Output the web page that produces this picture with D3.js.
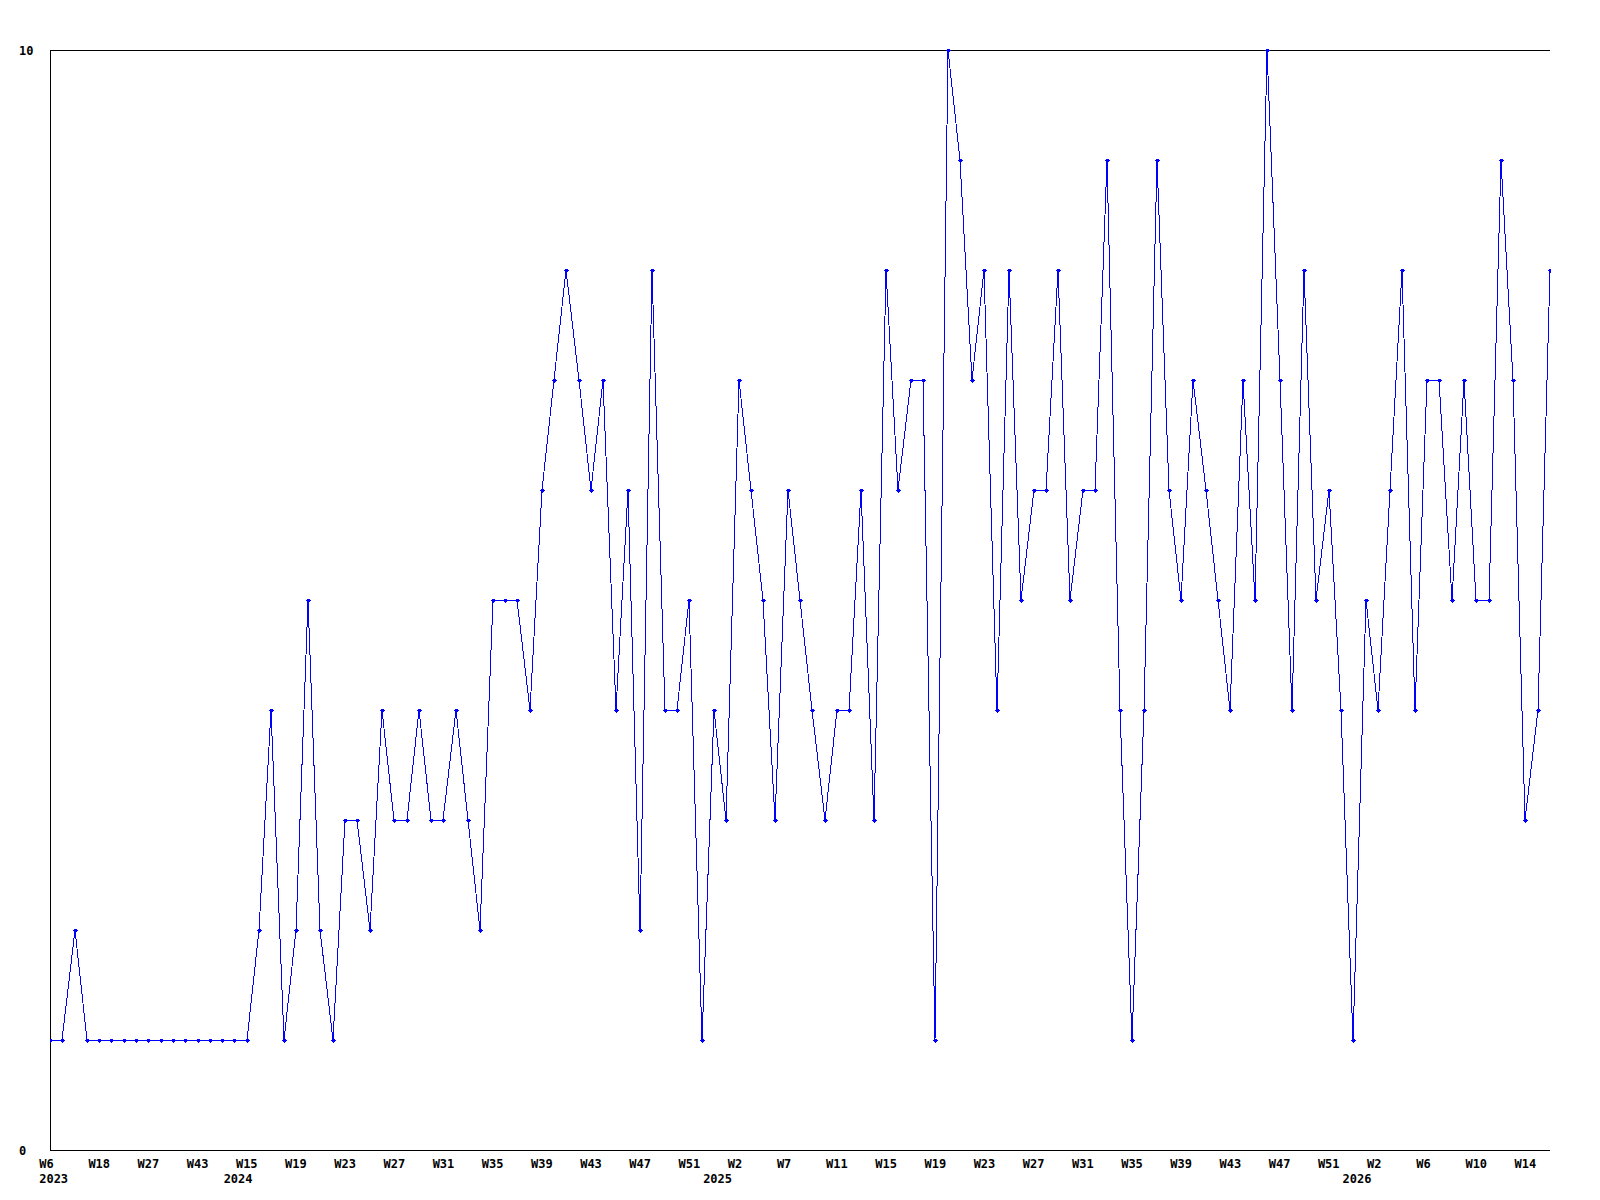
<!DOCTYPE html>
<html>
<head>
<meta charset="utf-8">
<script src="https://cdn.jsdelivr.net/npm/d3@7"></script>
<style>
  html, body { margin: 0; padding: 0; background: #fff; }
  svg { display: block; }
  text { font-family: "DejaVu Sans Mono", "Liberation Mono", monospace; font-weight: bold; font-size: 12px; fill: #000; }
</style>
</head>
<body>
<svg id="chart" width="1600" height="1200"></svg>
<script>
// Weekly values, one per point (index 0 .. 122)
const values = [
  1,1,2,1,1,1,1,1,1,1,1,1,1,1,1,1,1,
  2,4,1,2,5,2,1,3,3,2,4,3,3,4,3,3,4,3,2,5,5,5,4,6,7,8,7,6,7,4,6,2,8,
  4,4,5,1,4,3,7,6,5,3,6,5,4,3,4,4,6,3,8,6,7,7,1,10,9,7,8,4,8,5,6,6,8,
  5,6,6,9,4,1,4,9,6,5,7,6,5,4,7,5,10,7,4,8,5,6,4,1,5,4,6,8,4,7,7,5,7,
  5,5,9,7,3,4,8
];
// Week tick labels, one every 4th point
const tickEvery = 4;
const tickLabels = ["W6","W18","W27","W43","W15","W19","W23","W27","W31","W35",
  "W39","W43","W47","W51","W2","W7","W11","W15","W19","W23","W27","W31","W35",
  "W39","W43","W47","W51","W2","W6","W10","W14"];
// Year labels and the point index where each year starts
const yearLabels = ["2023","2024","2025","2026"];
const yearStart = [0, 15, 54, 106];
// Y axis labels
const yTicks = [0, 10];

const svg = d3.select("#chart");
const L = 50, R = 1550, T = 50, B = 1150;

const x = d3.scaleLinear().domain([0, values.length - 1]).range([L, R]);
const y = d3.scaleLinear().domain([0, 10]).range([B, T]);

// frame: left, top, bottom
svg.append("path")
  .attr("d", `M${R},${T + 0.5}H${L + 0.5}V${B + 0.5}H${R}`)
  .attr("fill", "none").attr("stroke", "#000").attr("stroke-width", 1)
  .attr("shape-rendering", "crispEdges");

// y labels
svg.selectAll("text.ylab").data(yTicks).enter().append("text")
  .attr("class", "ylab")
  .attr("x", 19)
  .attr("y", d => y(d) + 4.5)
  .text(d => d);

// week labels
svg.selectAll("text.wk").data(tickLabels).enter().append("text")
  .attr("class", "wk")
  .attr("x", (d, k) => x(k * tickEvery) - 10.8)
  .attr("y", 1168)
  .text(d => d);

// year labels
svg.selectAll("text.yr").data(yearLabels).enter().append("text")
  .attr("class", "yr")
  .attr("x", (d, k) => x(yearStart[k]) - 10.8)
  .attr("y", 1183)
  .text(d => d);

svg.append("clipPath").attr("id", "clip")
  .append("rect").attr("x", L).attr("y", 0).attr("width", R - L + 1).attr("height", 1200);

const g = svg.append("g").attr("clip-path", "url(#clip)");

const line = d3.line().x((d, i) => Math.round(x(i))).y(d => Math.round(y(d)));
g.append("path")
  .datum(values)
  .attr("d", line)
  .attr("fill", "none")
  .attr("stroke", "#0000ff")
  .attr("stroke-width", 1)
  .attr("shape-rendering", "crispEdges");

// markers: small plus
g.selectAll("path.mk").data(values).enter().append("path")
  .attr("class", "mk")
  .attr("transform", (d, i) => `translate(${Math.round(x(i)) + 0.5},${Math.round(y(d)) + 0.5})`)
  .attr("d", "M-2.5,0H2.5M0,-2V2M-1,-1H1V1H-1Z")
  .attr("fill", "#0000ff")
  .attr("stroke", "#0000ff")
  .attr("stroke-width", 1)
  .attr("shape-rendering", "crispEdges");
</script>
</body>
</html>
